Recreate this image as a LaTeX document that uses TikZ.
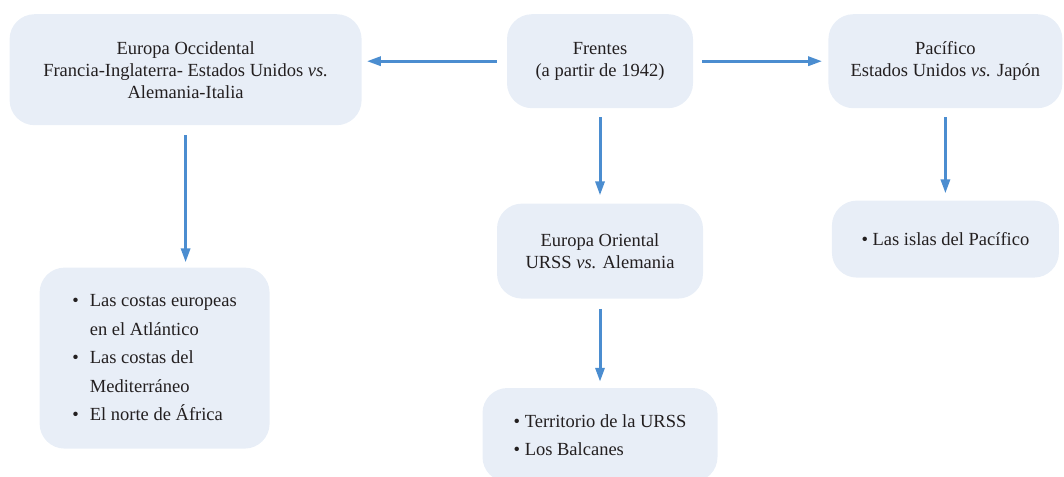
\documentclass[tikz,border=0pt]{standalone}
\usepackage{fontspec}
\setmainfont{Liberation Serif}
\usetikzlibrary{positioning,arrows.meta}
\definecolor{boxfill}{HTML}{E8EEF7}
\definecolor{arrowblue}{HTML}{4B8DD0}
\definecolor{textgray}{HTML}{231F20}

\begin{document}
\begin{tikzpicture}[
    x=1pt, y=1pt,
    frontbox/.style={fill=boxfill, rounded corners=25pt, align=center, text=textgray, inner sep=0pt, font=\fontsize{18.5}{22}\selectfont},
    listbox/.style={frontbox, align=left, font=\fontsize{18.5}{28.5}\selectfont},
    link/.style={draw=arrowblue, line width=3pt, -{Triangle[length=14pt,width=9pt]}},
    node distance=95pt
  ]
  \useasboundingbox (0,0) rectangle (1064,-476);

  % top row
  \node[frontbox, minimum width=186pt, minimum height=94pt, anchor=north] (fr) at (600,-14) {Frentes\\(a partir de 1942)};
  \node[frontbox, minimum width=352pt, minimum height=111pt, left=145pt of fr.north west, anchor=north east] (occ) {Europa Occidental\\Francia-Inglaterra- Estados Unidos \textit{vs.}\\Alemania-Italia};
  \node[frontbox, minimum width=234pt, minimum height=94pt, right=135pt of fr.north east, anchor=north west] (pac) {Pacífico\\Estados Unidos \textit{vs.} Japón};

  % second row
  \node[frontbox, minimum width=206pt, minimum height=95pt, below=95pt of fr] (ori) {Europa Oriental\\URSS \textit{vs.} Alemania};
  \node[listbox, minimum width=227pt, minimum height=77pt, below=92pt of pac] (isl) {• Las islas del Pacífico};
  \node[listbox, minimum width=230pt, minimum height=181pt, below=142pt of occ.south west, anchor=north west, xshift=30pt] (cos) {%
    \begin{tabular}{@{}l@{\hspace{11pt}}l@{}}
      • & Las costas europeas\\
        & en el Atlántico\\
      • & Las costas del\\
        & Mediterráneo\\
      • & El norte de África
    \end{tabular}};

  % bottom
  \node[listbox, minimum width=235pt, minimum height=94pt, below=89pt of ori] (ter) {• Territorio de la URSS\\• Los Balcanes};

  % arrows
  \draw[link, shorten <=10pt, shorten >=5pt] (fr.west) -- (fr.west -| occ.east);
  \draw[link, shorten <=9pt, shorten >=6pt] (fr.east) -- (fr.east -| pac.west);
  \draw[link, shorten <=9pt, shorten >=8pt] (fr) -- (ori);
  \draw[link, shorten <=10pt, shorten >=5pt] (occ.south) -- (occ.south |- cos.north);
  \draw[link, shorten <=10pt, shorten >=6pt] (ori) -- (ter);
  \draw[link, shorten <=9pt, shorten >=7pt] (isl.north |- pac.south) -- (isl.north);
\end{tikzpicture}
\end{document}
